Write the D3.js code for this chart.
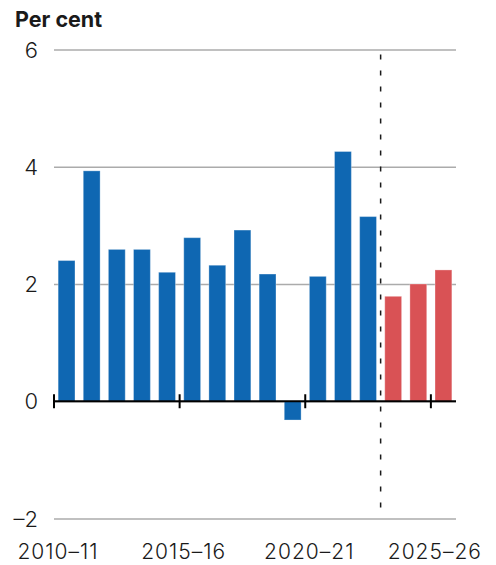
<!DOCTYPE html>
<html>
<head>
<meta charset="utf-8">
<script src="https://cdn.jsdelivr.net/npm/d3@7"></script>
<style>
  html, body { margin: 0; padding: 0; background: #fff; }
  svg { display: block; }
  text { font-family: Inter, "Noto Sans", sans-serif; fill: #1a1a1a; }
</style>
</head>
<body>
<svg id="chart" width="496" height="565"></svg>
<script>
// Annual growth, per cent: actuals then forecasts
const years = ["2010-11","2011-12","2012-13","2013-14","2014-15","2015-16","2016-17","2017-18",
               "2018-19","2019-20","2020-21","2021-22","2022-23","2023-24","2024-25","2025-26"];
const growth = [2.40, 3.93, 2.59, 2.59, 2.20, 2.79, 2.32, 2.92,
                2.17, -0.32, 2.13, 4.26, 3.15, 1.79, 2.00, 2.24];
const forecastFrom = "2023-24";
const yTicks = [-2, 0, 2, 4, 6];
const xTickLabels = ["2010-11","2015-16","2020-21","2025-26"];

const svg = d3.select("#chart");
const plotLeft = 54, plotRight = 456, plotTop = 49.5, plotBottom = 518.5;

const x = d3.scaleBand().domain(years).range([plotLeft, plotRight])
  .paddingInner(0.33).paddingOuter(0.165);
const y = d3.scaleLinear().domain([-2, 6]).range([plotBottom, plotTop]);

// Horizontal gridlines and y labels
const yAxis = d3.axisLeft(y).tickValues(yTicks).tickSize(-(plotRight - plotLeft)).tickPadding(16)
  .tickFormat(d => d < 0 ? "\u2013" + Math.abs(d) : d);
const gy = svg.append("g").attr("transform", `translate(${plotLeft},0)`).call(yAxis);
gy.select(".domain").remove();
gy.selectAll(".tick line").attr("stroke", "#ababab").attr("stroke-width", 1.5);
gy.selectAll(".tick text").attr("font-size", 22).attr("font-weight", 300)
  .attr("fill", "#222").attr("dy", "0.35em");

// Bars
svg.append("g").selectAll("rect").data(years).join("rect")
  .attr("x", d => x(d))
  .attr("width", x.bandwidth())
  .attr("y", (d, i) => y(Math.max(0, growth[i])))
  .attr("height", (d, i) => Math.abs(y(growth[i]) - y(0)))
  .attr("fill", d => years.indexOf(d) >= years.indexOf(forecastFrom) ? "#d95255" : "#0f67b2")
  .attr("stroke", "rgba(255,255,255,0.3)")
  .attr("stroke-width", 1);

// Dashed divider between actuals and forecasts
const divX = x(forecastFrom) - x.step() * x.paddingInner() / 2;
svg.append("line")
  .attr("x1", divX).attr("x2", divX)
  .attr("y1", y(6) + 5).attr("y2", y(-2))
  .attr("stroke", "#1a1a1a").attr("stroke-width", 1.5)
  .attr("stroke-dasharray", "5,11");

// Zero axis with category ticks
const tickX = d => x(d) - x.step() * x.paddingInner() / 2;
const gx = svg.append("g");
gx.append("line")
  .attr("x1", plotLeft - 1).attr("x2", plotRight)
  .attr("y1", y(0)).attr("y2", y(0))
  .attr("stroke", "#000").attr("stroke-width", 2);
gx.selectAll("line.tick").data(xTickLabels).join("line")
  .attr("class", "tick")
  .attr("x1", tickX).attr("x2", tickX)
  .attr("y1", y(0) - 7).attr("y2", y(0) + 7)
  .attr("stroke", "#000").attr("stroke-width", 2);
gx.selectAll("text").data(xTickLabels).join("text")
  .attr("x", d => tickX(d) + 4)
  .attr("y", 559)
  .attr("text-anchor", "middle")
  .attr("font-size", 21)
  .attr("font-weight", 300)
  .attr("letter-spacing", 1)
  .attr("fill", "#222")
  .text(d => d.replace("-", "\u2013"));

// Unit label
svg.append("text")
  .attr("x", 15).attr("y", 27)
  .attr("font-size", 21.5).attr("font-weight", 700).attr("fill", "#111")
  .text("Per cent");
</script>
</body>
</html>
